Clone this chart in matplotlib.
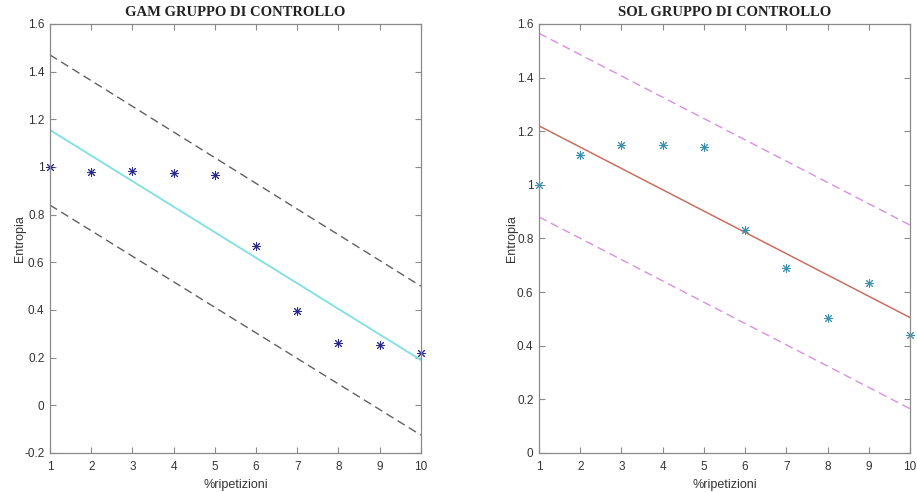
import matplotlib.pyplot as plt
import numpy as np

plt.rcParams['font.family'] = ['Liberation Sans', 'DejaVu Sans']
plt.rcParams['font.size'] = 8.5

x = np.arange(1, 11)

# GAM gruppo di controllo
gam_y = [1.0, 0.98, 0.985, 0.975, 0.965, 0.67, 0.395, 0.26, 0.255, 0.22]
gam_fit = [1.155, 0.19]        # retta a x=1 e x=10
gam_upper = [1.47, 0.50]
gam_lower = [0.84, -0.125]

# SOL gruppo di controllo
sol_y = [1.0, 1.11, 1.15, 1.147, 1.14, 0.83, 0.69, 0.505, 0.635, 0.44]
sol_fit = [1.22, 0.505]
sol_upper = [1.565, 0.85]
sol_lower = [0.88, 0.165]

x_ends = [1, 10]

fig = plt.figure(figsize=(9.17, 4.92), dpi=100)
ax1 = fig.add_axes([0.0545, 0.0793, 0.4045, 0.872])
ax2 = fig.add_axes([0.5878, 0.0793, 0.4046, 0.872])

def style(ax, title, ylim, yticks):
    ax.set_xlim(1, 10)
    ax.set_ylim(*ylim)
    ax.set_xticks(x)
    ax.set_yticks(yticks)
    ax.set_yticklabels([('%g' % t) for t in yticks])
    ax.tick_params(direction='in', top=True, right=True, length=4,
                   color='#8a8a8a', labelcolor='#333333', labelsize=8.5)
    ax.tick_params(axis='x', pad=6)
    ax.tick_params(axis='y', pad=4)
    for s in ax.spines.values():
        s.set_color('#8a8a8a')
        s.set_linewidth(0.9)
    ax.set_xlabel('%ripetizioni', color='#333333', fontsize=9, labelpad=4)
    ax.set_ylabel('Entropia', color='#333333', fontsize=9, labelpad=-1)
    ax.set_title(title, fontfamily='Liberation Serif', fontweight='bold',
                 fontsize=10.5, color='#222222', pad=6)

star = (8, 2, 0)

ax1.plot(x_ends, gam_upper, '--', color='#606060', lw=1.0, dashes=(6, 3.5))
ax1.plot(x_ends, gam_lower, '--', color='#606060', lw=1.0, dashes=(6, 3.5))
ax1.plot(x_ends, gam_fit, '-', color='#7fe0e0', lw=1.3)
ax1.plot(x, gam_y, ls='none', marker=star, color='#2a2a8a', ms=6.5, mew=0.7,
         clip_on=False)
style(ax1, 'GAM GRUPPO DI CONTROLLO', (-0.2, 1.6),
      [-0.2, 0, 0.2, 0.4, 0.6, 0.8, 1, 1.2, 1.4, 1.6])

ax2.plot(x_ends, sol_upper, '--', color='#d890e0', lw=1.0, dashes=(6, 3.5))
ax2.plot(x_ends, sol_lower, '--', color='#d890e0', lw=1.0, dashes=(6, 3.5))
ax2.plot(x_ends, sol_fit, '-', color='#c87060', lw=1.1)
ax2.plot(x, sol_y, ls='none', marker=star, color='#3a90b0', ms=6.5, mew=0.7,
         clip_on=False)
style(ax2, 'SOL GRUPPO DI CONTROLLO', (0, 1.6),
      [0, 0.2, 0.4, 0.6, 0.8, 1, 1.2, 1.4, 1.6])

fig.savefig('out.png', dpi=100)
